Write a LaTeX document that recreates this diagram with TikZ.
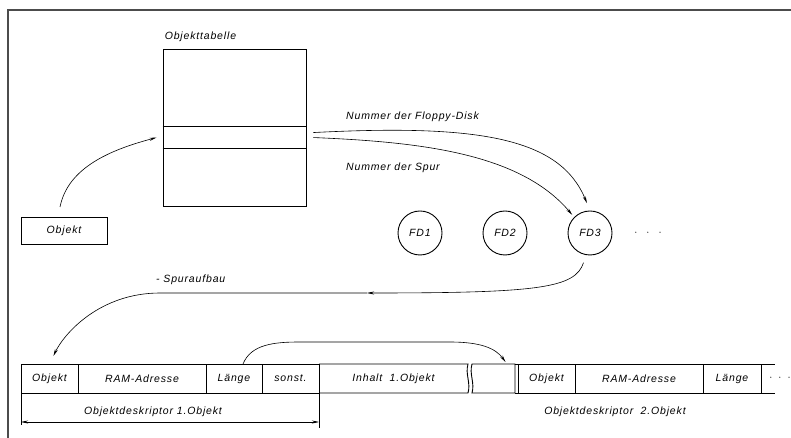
\documentclass[tikz,border=0pt]{standalone}
\usepackage{fontspec}
\usepackage{tikz}
\usetikzlibrary{arrows.meta,positioning}
\newfontfamily\lblfont[LetterSpace=8]{Liberation Sans}

\tikzset{
  lbl/.style={font=\lblfont\itshape\fontsize{10.5}{12}\selectfont, inner sep=1pt},
  cell/.style={lbl, draw, line width=0.9pt, outer sep=0pt, minimum height=29pt},
  cellopen/.style={lbl, outer sep=0pt, minimum height=29pt},
  fd/.style={lbl, draw, circle, line width=0.9pt, minimum size=44pt},
  pfeil/.style={line width=0.6pt, -{Stealth[length=7pt,width=3pt]}},
  rahmen/.style={line width=1.3pt, draw=black!70},
}

\begin{document}
\begin{tikzpicture}[x=1pt,y=1pt]
  \useasboundingbox (0,0) rectangle (791,438);
  \draw[rahmen] (8,0) -- (8,428) -- (791,428);

  \node[draw, line width=0.9pt, minimum width=143pt, minimum height=157pt] (tab) at (234.5,310.5) {};
  \draw[line width=0.9pt] ([yshift=-78pt]tab.north west) -- ([yshift=-78pt]tab.north east);
  \draw[line width=0.9pt] ([yshift=-100pt]tab.north west) -- ([yshift=-100pt]tab.north east);
  \node[lbl, anchor=south west] (tablbl) at ([shift={(1pt,6pt)}]tab.north west) {Objekttabelle};

  \node[cell, minimum width=86pt, minimum height=27pt] (objbox) at (64,207.5) {Objekt};

  \node[fd] (fd1) at (420,205) {FD1};
  \node[fd] (fd2) at (505,205) {FD2};
  \node[fd] (fd3) at (590,205) {FD3};
  \node[lbl] (dots1) at (648,205) {$\cdot$\hspace{9pt}$\cdot$\hspace{9pt}$\cdot$};

  \node[lbl, anchor=west] (nfd) at (345,321) {Nummer der Floppy-Disk};
  \node[lbl, anchor=west] (nsp) at (345,270) {Nummer der Spur};
  \node[lbl, anchor=west] (spl) at (155,158) {- Spuraufbau};

  \node[cell, minimum width=57pt] (c1) at (49.5,59.5) {Objekt};
  \node[cell, minimum width=128pt, right=0pt of c1] (c2) {RAM-Adresse};
  \node[cell, minimum width=56pt, right=0pt of c2] (c3) {Länge};
  \node[cell, minimum width=57pt, right=0pt of c3] (c4) {sonst.};
  \node[cellopen, minimum width=149pt, right=0pt of c4] (c5) {Inhalt\hspace{.7em}1.Objekt};
  \draw[line width=0.9pt] (c5.north west) -- (c5.north east) .. controls +(-3,-10) and +(3,10) .. (c5.south east) -- (c5.south west);

  \node[cellopen, minimum width=43pt] (g) at (493.5,59.5) {};
  \draw[line width=0.9pt] (g.north east) -- (g.north west) .. controls +(-3,-10) and +(3,10) .. (g.south west) -- (g.south east) -- cycle;
  \node[cell, minimum width=57pt, right=3pt of g] (d1) {Objekt};
  \node[cell, minimum width=128pt, right=0pt of d1] (d2) {RAM-Adresse};
  \node[cell, minimum width=58pt, right=0pt of d2] (d3) {Länge};
  \draw[line width=0.9pt] (g.north east) -- (d1.north west) (g.south east) -- (d1.south west);
  \draw[line width=0.9pt] (d3.north east) -- ++(14,0) (d3.south east) -- ++(14,0);
  \node[lbl] (dots2) at (780,59.5) {$\cdot$\hspace{6pt}$\cdot$\hspace{6pt}$\cdot$};

  \draw[line width=0.6pt] (c1.south west) -- ++(0,-32);
  \draw[line width=0.6pt] (c4.south east) -- ++(0,-35);
  \draw[line width=0.6pt, {Stealth[length=7pt,width=3pt]}-{Stealth[length=7pt,width=3pt]}] ([yshift=-29pt]c1.south west) -- ([yshift=-29pt]c4.south east);
  \node[lbl] (od1) at (153,26) {Objektdeskriptor 1.Objekt};
  \node[lbl] (od2) at (615,26) {Objektdeskriptor\hspace{.7em}2.Objekt};

  \coordinate (sp) at (367,145);
  \draw[pfeil] ([shift={(-4pt,10pt)}]objbox.north) .. controls +(8,40) and +(-45,-12) .. ([shift={(-6pt,-89pt)}]tab.north west);
  \draw[pfeil, shorten >=8pt] ([shift={(7pt,-84pt)}]tab.north east) .. controls (480,314) and (560,300) .. (fd3.north);
  \draw[pfeil, shorten >=3pt] ([shift={(7pt,-89pt)}]tab.north east) .. controls (420,296) and (520,285) .. (fd3.135);
  \draw[pfeil, shorten <=8pt] (fd3.260) .. controls (575,150) and (540,145) .. (sp);
  \draw[pfeil, shorten >=9pt] (sp) -- ++(-207,0) .. controls +(-60,0) and +(15,31) .. (c1.north);
  \draw[pfeil] ([xshift=9pt]c3.north) .. controls +(8,20) and +(-25,0) .. ++(57,22) -- ++(150,0) .. controls +(30,0) and +(-10,14) .. ([xshift=12pt,yshift=2pt]g.north);
\end{tikzpicture}
\end{document}
